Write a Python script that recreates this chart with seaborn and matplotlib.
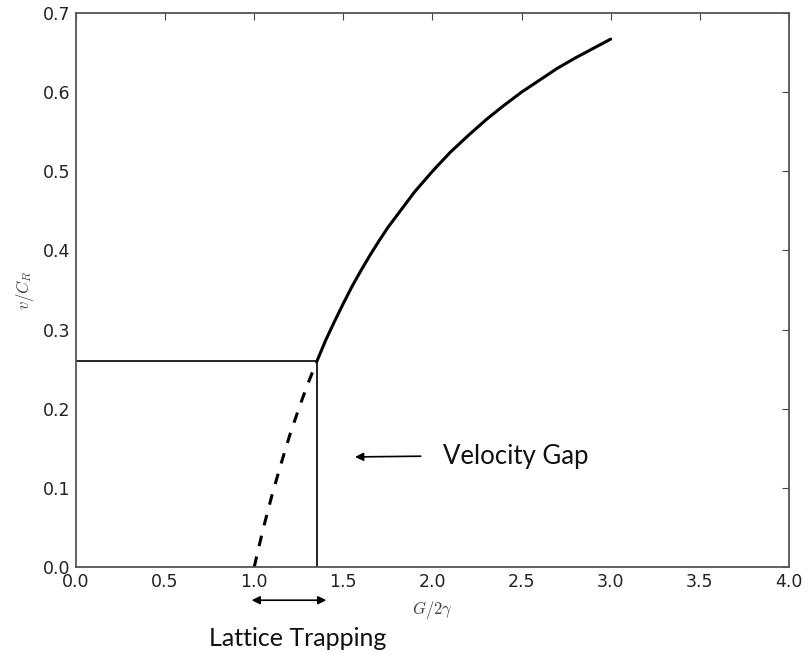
import matplotlib
matplotlib.use("Agg")
import matplotlib.pyplot as plt
import seaborn as sns
import pandas as pd

# Data
solid_x = [1.35, 1.4, 1.45, 1.5, 1.55, 1.6, 1.65, 1.7, 1.75, 1.8, 1.85, 1.9,
           1.95, 2.0, 2.1, 2.2, 2.3, 2.4, 2.5, 2.6, 2.7, 2.8, 2.9, 3.0]
solid_y = [0.259, 0.286, 0.310, 0.333, 0.355, 0.375, 0.394, 0.412, 0.429,
           0.444, 0.459, 0.474, 0.487, 0.500, 0.524, 0.545, 0.565, 0.583,
           0.600, 0.615, 0.630, 0.643, 0.655, 0.667]
dashed_x = [1.0, 1.05, 1.1, 1.15, 1.2, 1.25, 1.3, 1.35]
dashed_y = [0.0, 0.048, 0.091, 0.130, 0.167, 0.200, 0.231, 0.259]
gap_x = 1.35
gap_y = 0.26
x_ticks = [0.0, 0.5, 1.0, 1.5, 2.0, 2.5, 3.0, 3.5, 4.0]
y_ticks = [0.0, 0.1, 0.2, 0.3, 0.4, 0.5, 0.6, 0.7]

sns.set_style("white")
plt.rcParams["mathtext.fontset"] = "cm"

fig = plt.figure(figsize=(8.1, 6.55), dpi=100)
ax = fig.add_axes([0.0938, 0.1344, 0.8802, 0.8458])

df_s = pd.DataFrame({"x": solid_x, "y": solid_y})
df_d = pd.DataFrame({"x": dashed_x, "y": dashed_y})
sns.lineplot(data=df_s, x="x", y="y", ax=ax, color="black", lw=2.2, sort=False)
sns.lineplot(data=df_d, x="x", y="y", ax=ax, color="black", lw=2.2, sort=False,
             linestyle=(0, (3.5, 3.5)))

ax.plot([0, gap_x], [gap_y, gap_y], color="black", lw=1.2)
ax.plot([gap_x, gap_x], [0, gap_y], color="black", lw=1.2)

ax.set_xlim(0, 4)
ax.set_ylim(0, 0.7)
ax.set_xticks(x_ticks)
ax.set_yticks(y_ticks)
ax.set_xticklabels([f"{t:.1f}" for t in x_ticks])
ax.set_yticklabels([f"{t:.1f}" for t in y_ticks])
ax.tick_params(direction="in", length=5, width=0.8, colors="#444444",
               labelcolor="#222222", labelsize=12.5, top=True, right=True,
               pad=4)
for s in ax.spines.values():
    s.set_color("#555555")
    s.set_linewidth(1.3)

ax.set_xlabel(r"$G/2\gamma$", fontsize=12, color="#444444", labelpad=6)
ax.set_ylabel(r"$v/C_R$", fontsize=12, color="#444444", labelpad=5)

# Velocity gap annotation
ax.annotate("", xy=(1.55, 0.139), xytext=(1.95, 0.140),
            arrowprops=dict(arrowstyle="-|>", color="black", lw=1.2,
                            mutation_scale=12))
ax.text(2.06, 0.140, "Velocity Gap", fontsize=18.5, family="Lato",
        va="center", ha="left", color="#111111")

# Lattice trapping annotation
ax.annotate("", xy=(0.97, -0.042), xytext=(1.42, -0.042),
            xycoords="data", annotation_clip=False,
            arrowprops=dict(arrowstyle="<|-|>", color="black", lw=1.2,
                            mutation_scale=12))
ax.text(1.245, -0.09, "Lattice Trapping", fontsize=18, family="Lato",
        va="center", ha="center", color="#111111", clip_on=False)

fig.savefig("out.png", dpi=100)
